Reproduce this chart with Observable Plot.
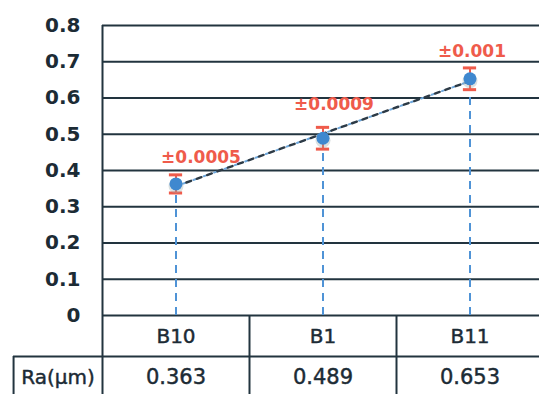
<!DOCTYPE html>
<html>
<head>
<meta charset="utf-8">
<script src="https://cdn.jsdelivr.net/npm/d3@7"></script>
<script src="https://cdn.jsdelivr.net/npm/@observablehq/plot@0.6"></script>
<style>
  html, body { margin: 0; padding: 0; background: #fff; }
  #chart svg { overflow: visible; }
</style>
</head>
<body>
<div id="chart"></div>
<script>
// ---- data ----
const categories = ["B10", "B1", "B11"];
const raValues = [0.363, 0.489, 0.653];
const errLabels = ["±0.0005", "±0.0009", "±0.001"];
const errBars = [0.025, 0.03, 0.03];   // drawn half-length of error bars
const yTicks = [0, 0.1, 0.2, 0.3, 0.4, 0.5, 0.6, 0.7, 0.8];
const rowHeader = "Ra(μm)";

// ---- layout / style constants ----
const W = 539, H = 394;
const gridColor = "#22343f";
const textColor = "#1c2b35";
const red = "#ef5b4b";
const blue = "#3f88cf";
const labelDx = [25, 11, 2];
const labelDy = [-17, -23, -16];
const tableRow = -0.113;      // y of row divider (in y units, below 0)
const tableBottom = -0.25;
const headerLeft = -0.605;    // x of header cell left border (in category units)
const rightEdge = 3.2;
const tableFont = {fontFamily: "DejaVu Sans", fill: textColor, stroke: textColor, strokeWidth: 0.45,
  textAnchor: "middle"};

const data = categories.map((c, i) => ({
  cat: c, x: i + 0.5, ra: raValues[i], err: errBars[i], label: errLabels[i], i
}));

const fmt = d => String(+d.toFixed(1));

const marks = [
  // horizontal grid lines
  Plot.ruleY(yTicks, {x1: 0, x2: rightEdge, stroke: gridColor, strokeWidth: 2}),
  // table horizontal divider
  Plot.ruleY([tableRow], {x1: headerLeft, x2: rightEdge, stroke: gridColor, strokeWidth: 2}),
  // left frame line
  Plot.ruleX([0], {y1: 0.8, y2: tableBottom, stroke: gridColor, strokeWidth: 2}),
  // table column dividers
  Plot.ruleX([1, 2], {y1: 0, y2: tableBottom, stroke: gridColor, strokeWidth: 2}),
  // header cell left border
  Plot.ruleX([headerLeft], {y1: tableRow, y2: tableBottom, stroke: gridColor, strokeWidth: 2}),
  // category labels
  Plot.text(data, {x: "x", y: 0, text: "cat", dy: 21, fontSize: 20, ...tableFont}),
  // values row
  Plot.text(data, {x: "x", y: 0, text: d => d.ra.toFixed(3), dy: 62, fontSize: 21, ...tableFont}),
  Plot.text([rowHeader], {x: headerLeft / 2, y: 0, text: d => d, dy: 62, fontSize: 20, ...tableFont}),
  // dashed drop lines
  Plot.ruleX(data, {x: "x", y1: 0, y2: "ra", stroke: "#4f93d6", strokeWidth: 2, strokeDasharray: "8,6"}),
  // trend line (dash-dot: light blue dots between dark dashes)
  Plot.linearRegressionY(data, {x: "x", y: "ra", ci: 0, stroke: "#6fa8dc", strokeWidth: 2,
    strokeDasharray: "2,9", strokeDashoffset: -7.5}),
  Plot.linearRegressionY(data, {x: "x", y: "ra", ci: 0, stroke: "#2c3a46", strokeWidth: 2.4, strokeDasharray: "5,6"}),
  // error bars
  Plot.ruleX(data, {x: "x", y1: d => d.ra - d.err, y2: d => d.ra + d.err, stroke: red, strokeWidth: 2}),
  Plot.ruleY(data, {y: d => d.ra + d.err, x1: d => d.x - 0.045, x2: d => d.x + 0.045, stroke: red, strokeWidth: 3}),
  Plot.ruleY(data, {y: d => d.ra - d.err, x1: d => d.x - 0.045, x2: d => d.x + 0.045, stroke: red, strokeWidth: 3}),
  // dot shadow and dots
  Plot.dot(data, {x: "x", y: "ra", r: 7.5, fill: "#9aa", fillOpacity: 0.35, dy: 2}),
  Plot.dot(data, {x: "x", y: "ra", r: 6.5, fill: blue}),
  // y axis
  Plot.axisY({ticks: yTicks, tickSize: 0, tickPadding: 22, tickFormat: fmt, fontSize: 20,
    fontWeight: "bold", fill: textColor, fontFamily: "DejaVu Sans", label: null})
];

// error labels, each with its own placement offset
data.forEach((d, i) => {
  marks.push(Plot.text([d], {x: "x", y: e => e.ra + e.err, text: "label", dx: labelDx[i], dy: labelDy[i],
    fill: red, fontSize: 17, fontWeight: "bold", fontFamily: "DejaVu Sans", textAnchor: "middle",
    lineAnchor: "middle"}));
});

const chart = Plot.plot({
  width: W,
  height: H,
  marginLeft: 102,
  marginRight: 0,
  marginTop: 25,
  marginBottom: 79,
  x: {domain: [0, 3], range: [102, 543], axis: null},
  y: {domain: [0, 0.8], axis: null},
  style: {background: "#fff", overflow: "visible"},
  marks
});
document.getElementById("chart").appendChild(chart);
</script>
</body>
</html>
